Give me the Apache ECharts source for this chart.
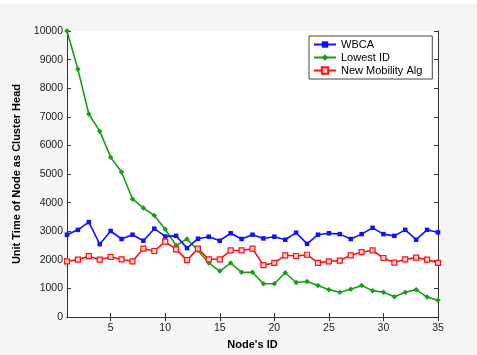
<!DOCTYPE html>
<html>
<head>
<meta charset="utf-8">
<script src="https://cdn.jsdelivr.net/npm/echarts@6/dist/echarts.min.js"></script>
<style>
html,body{margin:0;padding:0;background:#f5f5f5;}
#c{width:477px;height:355px;}
</style>
</head>
<body>
<div id="c"></div>
<script>
var nodeIds = [1,2,3,4,5,6,7,8,9,10,11,12,13,14,15,16,17,18,19,20,21,22,23,24,25,26,27,28,29,30,31,32,33,34,35];
var xTicks = [5,10,15,20,25,30,35];
var wbca = [2880,3050,3320,2550,3010,2730,2880,2670,3090,2820,2840,2410,2740,2810,2670,2930,2730,2880,2750,2810,2705,2950,2560,2880,2930,2900,2730,2900,3120,2900,2840,3050,2705,3050,2960];
var lowestId = [10000,8660,7100,6500,5590,5070,4130,3810,3550,3070,2500,2730,2330,1890,1610,1890,1565,1565,1165,1165,1550,1210,1245,1105,960,870,970,1105,925,870,710,870,960,700,585];
var newMobility = [1950,2010,2130,2010,2100,2020,1950,2390,2310,2640,2365,1990,2390,2020,2020,2330,2330,2390,1815,1895,2160,2135,2180,1895,1950,1975,2160,2270,2330,2065,1905,2020,2080,2010,1895];
var seriesNames = ['WBCA','Lowest ID','New Mobility Alg'];

function pairs(v){ return nodeIds.map(function(x,i){ return [x, v[i]]; }); }

var chart = echarts.init(document.getElementById('c'));
var axisCol = '#333';
var font = 'Liberation Sans, Arial, sans-serif';
chart.setOption({
  backgroundColor: '#f5f5f5',
  animation: false,
  graphic: [
    {type:'rect', left:0, top:0, shape:{width:477, height:4}, style:{fill:'#ffffff'}, z:-1}
  ],
  grid: {left:67, right:39, top:31, bottom:32, show:true, backgroundColor:'#ffffff', borderWidth:0},
  legend: {
    data: seriesNames,
    orient: 'vertical',
    left: 309, top: 36,
    padding: [2, 10, 2, 4],
    itemGap: 0,
    itemWidth: 22, itemHeight: 8,
    backgroundColor: '#ffffff',
    borderColor: '#444', borderWidth: 1,
    textStyle: {fontFamily: font, fontSize: 11, color:'#000', lineHeight: 13}
  },
  xAxis: [
    {type:'value', min:1, max:35, position:'bottom',
     name:"Node's ID", nameLocation:'middle', nameGap:17,
     nameTextStyle:{fontFamily:font, fontSize:11, fontWeight:'bold', color:'#000'},
     axisLine:{show:true, lineStyle:{color:axisCol, width:1}},
     axisTick:{show:true, inside:true, length:4, customValues:xTicks, lineStyle:{color:axisCol}},
     axisLabel:{show:true, customValues:xTicks, fontFamily:font, fontSize:10.5, color:'#222', margin:6},
     splitLine:{show:false}},
    {type:'value', min:1, max:35, position:'top',
     axisLine:{show:true, lineStyle:{color:axisCol, width:1}},
     axisTick:{show:true, inside:true, length:4, customValues:xTicks, lineStyle:{color:axisCol}},
     axisLabel:{show:false},
     splitLine:{show:false}}
  ],
  yAxis: [
    {type:'value', min:0, max:10000, interval:1000, position:'left',
     name:'Unit Time of Node as Cluster Head', nameLocation:'middle', nameGap:34,
     nameTextStyle:{fontFamily:font, fontSize:11, fontWeight:'bold', color:'#000'},
     axisLine:{show:true, lineStyle:{color:axisCol, width:1}},
     axisTick:{show:true, inside:true, length:4, lineStyle:{color:axisCol}},
     axisLabel:{fontFamily:font, fontSize:10.5, color:'#222', margin:4, formatter:function(v){return String(v);}},
     splitLine:{show:false}},
    {type:'value', min:0, max:10000, interval:1000, position:'right',
     axisLine:{show:true, lineStyle:{color:axisCol, width:1}},
     axisTick:{show:true, inside:true, length:4, lineStyle:{color:axisCol}},
     axisLabel:{show:false},
     splitLine:{show:false}}
  ],
  series: [
    {name:seriesNames[0], type:'line', data:pairs(wbca), xAxisIndex:0, yAxisIndex:0,
     symbol:'rect', symbolSize:4.5, showAllSymbol:true,
     lineStyle:{color:'#1010ff', width:1.6}, itemStyle:{color:'#1010ff'}, z:3},
    {name:seriesNames[1], type:'line', data:pairs(lowestId), xAxisIndex:0, yAxisIndex:0,
     symbol:'diamond', symbolSize:5.5, showAllSymbol:true,
     lineStyle:{color:'#14a014', width:1.6}, itemStyle:{color:'#14a014'}, z:2},
    {name:seriesNames[2], type:'line', data:pairs(newMobility), xAxisIndex:0, yAxisIndex:0,
     symbol:'rect', symbolSize:5, showAllSymbol:true,
     lineStyle:{color:'#ff1010', width:1.6}, itemStyle:{color:'#ffd0d0', borderColor:'#ff1010', borderWidth:1.2}, z:4}
  ]
});
</script>
</body>
</html>
